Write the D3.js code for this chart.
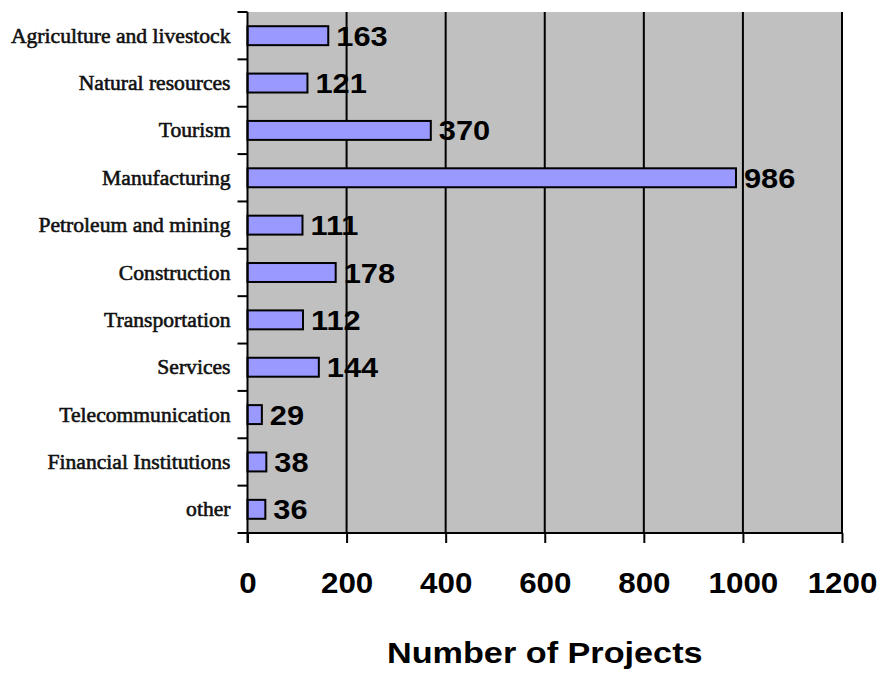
<!DOCTYPE html>
<html>
<head>
<meta charset="utf-8">
<script src="https://cdn.jsdelivr.net/npm/d3@7/dist/d3.min.js"></script>
<style>
  html, body { margin: 0; padding: 0; background: #fff; }
  svg { display: block; }
</style>
</head>
<body>
<svg id="chart" width="882" height="673"></svg>
<script>
// Projects per sector
const categories = [
  "Agriculture and livestock", "Natural resources", "Tourism", "Manufacturing",
  "Petroleum and mining", "Construction", "Transportation", "Services",
  "Telecommunication", "Financial Institutions", "other"
];
const projects = [163, 121, 370, 986, 111, 178, 112, 144, 29, 38, 36];
const xTicks = [0, 200, 400, 600, 800, 1000, 1200];
const xTitle = "Number of Projects";

const svg = d3.select("#chart");
const plot = { left: 247.5, right: 842, top: 12, bottom: 533 };
const sans = "Liberation Sans, Arial, sans-serif";
const serif = "Liberation Serif, Times New Roman, serif";

// widen text horizontally by a factor, keeping its anchor
function widen(sel, f) {
  sel.each(function () {
    const w = this.getComputedTextLength();
    d3.select(this).attr("textLength", w * f).attr("lengthAdjust", "spacingAndGlyphs");
  });
}

const x = d3.scaleLinear().domain([0, 1200]).range([plot.left, plot.right]);
const y = d3.scaleBand().domain(categories).range([plot.top, plot.bottom]).paddingInner(0.6).paddingOuter(0.3);
const band = d3.scaleBand().domain(categories).range([plot.top, plot.bottom]);

// plot background
svg.append("rect")
  .attr("x", plot.left).attr("y", plot.top)
  .attr("width", plot.right - plot.left).attr("height", plot.bottom - plot.top)
  .attr("fill", "#c0c0c0");
svg.append("line")
  .attr("x1", plot.right).attr("x2", plot.right)
  .attr("y1", plot.top).attr("y2", plot.bottom)
  .attr("stroke", "#808080").attr("stroke-width", 1.5);

// vertical gridlines
svg.append("g").selectAll("line").data(xTicks.slice(1)).join("line")
  .attr("x1", d => x(d)).attr("x2", d => x(d))
  .attr("y1", plot.top).attr("y2", plot.bottom)
  .attr("stroke", "#000").attr("stroke-width", 2);

// bars
svg.append("g").selectAll("rect").data(categories).join("rect")
  .attr("x", x(0))
  .attr("y", d => y(d))
  .attr("width", (d, i) => x(projects[i]) - x(0))
  .attr("height", y.bandwidth())
  .attr("fill", "#9999ff")
  .attr("stroke", "#000").attr("stroke-width", 2);

// value labels
svg.append("g").selectAll("text").data(categories).join("text")
  .attr("x", (d, i) => x(projects[i]) + 8)
  .attr("y", d => y(d) + y.bandwidth() / 2)
  .attr("dy", "0.36em")
  .attr("font-family", sans)
  .attr("font-weight", "bold").attr("font-size", 28)
  .attr("fill", "#000")
  .text((d, i) => projects[i])
  .call(widen, 1.1);

// y axis line + ticks at band boundaries
svg.append("line")
  .attr("x1", plot.left).attr("x2", plot.left)
  .attr("y1", plot.top).attr("y2", plot.bottom + 10)
  .attr("stroke", "#000").attr("stroke-width", 2);
const bounds = categories.map(d => band(d)).concat([plot.bottom]);
svg.append("g").selectAll("line").data(bounds).join("line")
  .attr("x1", plot.left - 10).attr("x2", plot.left)
  .attr("y1", d => d).attr("y2", d => d)
  .attr("stroke", "#000").attr("stroke-width", 2);

// category labels
svg.append("g").selectAll("text").data(categories).join("text")
  .attr("x", plot.left - 17)
  .attr("y", d => band(d) + band.bandwidth() / 2)
  .attr("dy", "0.35em")
  .attr("text-anchor", "end")
  .attr("font-family", serif)
  .attr("font-size", 20)
  .attr("fill", "#111")
  .attr("stroke", "#111").attr("stroke-width", 0.55)
  .text(d => d)
  .call(widen, 1.08);

// x axis
const xAxis = d3.axisBottom(x).tickValues(xTicks).tickFormat(d3.format("d")).tickSize(10);
const gx = svg.append("g").attr("transform", `translate(0,${plot.bottom})`).call(xAxis);
gx.select(".domain").attr("stroke", "#000").attr("stroke-width", 2).attr("d", `M${plot.left},0H${plot.right}`);
gx.selectAll(".tick line").attr("stroke", "#000").attr("stroke-width", 2);
gx.selectAll(".tick text")
  .attr("font-family", sans)
  .attr("font-weight", "bold").attr("font-size", 29).attr("fill", "#000")
  .attr("y", 60).attr("dy", null)
  .call(widen, 1.08);

// axis title
svg.append("text")
  .attr("x", (plot.left + plot.right) / 2)
  .attr("y", 663)
  .attr("text-anchor", "middle")
  .attr("font-family", sans)
  .attr("font-weight", "bold").attr("font-size", 29)
  .attr("fill", "#000")
  .text(xTitle)
  .call(widen, 1.18);
</script>
</body>
</html>
